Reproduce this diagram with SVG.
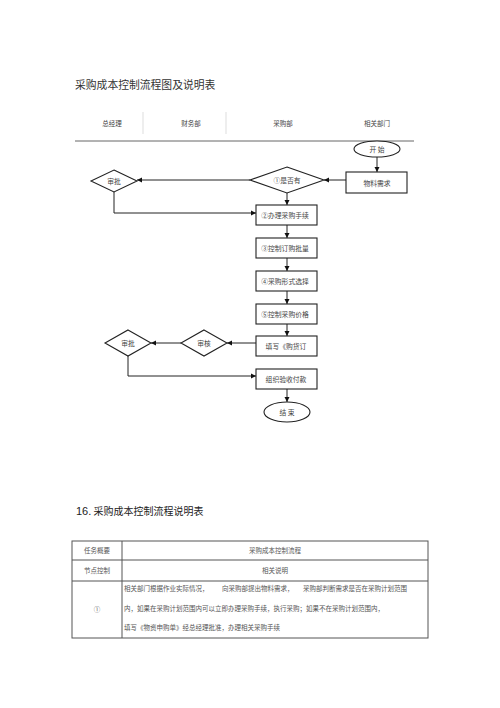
<svg xmlns="http://www.w3.org/2000/svg" width="500" height="708" viewBox="0 0 500 708">
<defs>
<marker id="ah" markerWidth="6" markerHeight="6" refX="5" refY="3" orient="auto" markerUnits="userSpaceOnUse">
<path d="M0,0.5 L5,3 L0,5.5 Z" fill="#111"/>
</marker>
<style>
text{font-family:"Noto Sans CJK SC","Liberation Serif",serif;fill:#444}
.t{font-size:6.8px;text-anchor:middle;dominant-baseline:central}
.s{fill:#fff;stroke:#222;stroke-width:1.1}
.c{fill:none;stroke:#222;stroke-width:1}
.a{marker-end:url(#ah)}
.g{stroke:#ddd;stroke-width:1}
.tb{fill:none;stroke:#555;stroke-width:1}
.tt{font-size:6.5px;fill:#555}
</style>
</defs>
<rect width="500" height="708" fill="#fff"/>
<text x="75" y="89" style="font-size:10.8px;fill:#333">采购成本控制流程图及说明表</text>
<g id="header">
<text class="t" x="112" y="123" style="font-size:6.5px">总经理</text>
<text class="t" x="191" y="123" style="font-size:6.5px">财务部</text>
<text class="t" x="283" y="123" style="font-size:6.5px">采购部</text>
<text class="t" x="377" y="123" style="font-size:6.5px">相关部门</text>
<line class="g" x1="143" y1="112" x2="143" y2="134"/>
<line class="g" x1="226" y1="112" x2="226" y2="134"/>
<line x1="75" y1="141" x2="414" y2="141" stroke="#666" stroke-width="1"/>
</g>
<g id="connectors">
<line class="c a" x1="377" y1="157" x2="377" y2="172"/>
<line class="c a" x1="346" y1="180" x2="324" y2="180"/>
<line class="c a" x1="250" y1="180" x2="137" y2="180"/>
<polyline class="c a" points="114,192 114,213 256,213"/>
<line class="c a" x1="287" y1="193" x2="287" y2="205"/>
<line class="c a" x1="287" y1="225" x2="287" y2="238"/>
<line class="c a" x1="287" y1="258" x2="287" y2="271"/>
<line class="c a" x1="287" y1="291" x2="287" y2="304"/>
<line class="c a" x1="287" y1="324" x2="287" y2="336"/>
<line class="c a" x1="256" y1="343" x2="227" y2="343"/>
<line class="c a" x1="181" y1="343" x2="151" y2="343"/>
<polyline class="c a" points="128,356 128,376 256,376"/>
<line class="c a" x1="287" y1="389" x2="287" y2="402"/>
</g>
<g id="start"><ellipse class="s" cx="377" cy="149" rx="23" ry="8"/><text class="t" x="377" y="149">开 始</text></g>
<g id="need"><rect class="s" x="346" y="172" width="61" height="21"/><text class="t" x="377" y="182.5">物料需求</text></g>
<g id="d1"><polygon class="s" points="287,167 324,180 287,193 250,180"/><text class="t" x="287" y="180">①是否有</text></g>
<g id="approve1"><polygon class="s" points="114,170 137,181 114,192 91,181"/><text class="t" x="114" y="181">审批</text></g>
<g id="b2"><rect class="s" x="256" y="205" width="61" height="20"/><text class="t" x="285" y="215">②办理采购手续</text></g>
<g id="b3"><rect class="s" x="256" y="238" width="61" height="20"/><text class="t" x="285" y="248">③控制订购批量</text></g>
<g id="b4"><rect class="s" x="256" y="271" width="61" height="20"/><text class="t" x="285" y="281">④采购形式选择</text></g>
<g id="b5"><rect class="s" x="256" y="304" width="61" height="20"/><text class="t" x="285" y="314">⑤控制采购价格</text></g>
<g id="fill"><rect class="s" x="256" y="336" width="61" height="20"/><text class="t" x="286" y="346">填写《购货订</text></g>
<g id="check"><polygon class="s" points="204,330 227,343 204,356 181,343"/><text class="t" x="204" y="343">审核</text></g>
<g id="approve2"><polygon class="s" points="128,330 151,343 128,356 105,343"/><text class="t" x="128" y="343">审批</text></g>
<g id="pay"><rect class="s" x="256" y="369" width="61" height="20"/><text class="t" x="286" y="379">组织验收付款</text></g>
<g id="end"><ellipse class="s" cx="287" cy="412" rx="23" ry="10"/><text class="t" x="287" y="412">结 束</text></g>
<text x="76" y="515" style="font-size:10px;fill:#222"><tspan style="font-family:'Liberation Sans',sans-serif;font-size:11px">16.</tspan> 采购成本控制流程说明表</text>
<g id="table">
<rect class="tb" x="72" y="541" width="356" height="97"/>
<line class="tb" x1="72" y1="560" x2="428" y2="560"/>
<line class="tb" x1="72" y1="581" x2="428" y2="581"/>
<line class="tb" x1="122" y1="541" x2="122" y2="638"/>
<text class="t tt" x="97" y="550">任务概要</text>
<text class="t tt" x="275" y="550">采购成本控制流程</text>
<text class="t tt" x="97" y="570">节点控制</text>
<text class="t tt" x="275" y="570">相关说明</text>
<text class="t tt" x="97" y="609">①</text>
<text class="tt" y="591"><tspan x="124">相关部门根据作业实际情况，</tspan><tspan x="222">向采购部提出物料需求，</tspan><tspan x="303">采购部判断需求是否在采购计划范围</tspan></text>
<text class="tt" x="124" y="611">内，如果在采购计划范围内可以立即办理采购手续，执行采购；如果不在采购计划范围内，</text>
<text class="tt" x="124" y="630">填写《物资申购单》经总经理批准，办理相关采购手续</text>
</g>
</svg>
